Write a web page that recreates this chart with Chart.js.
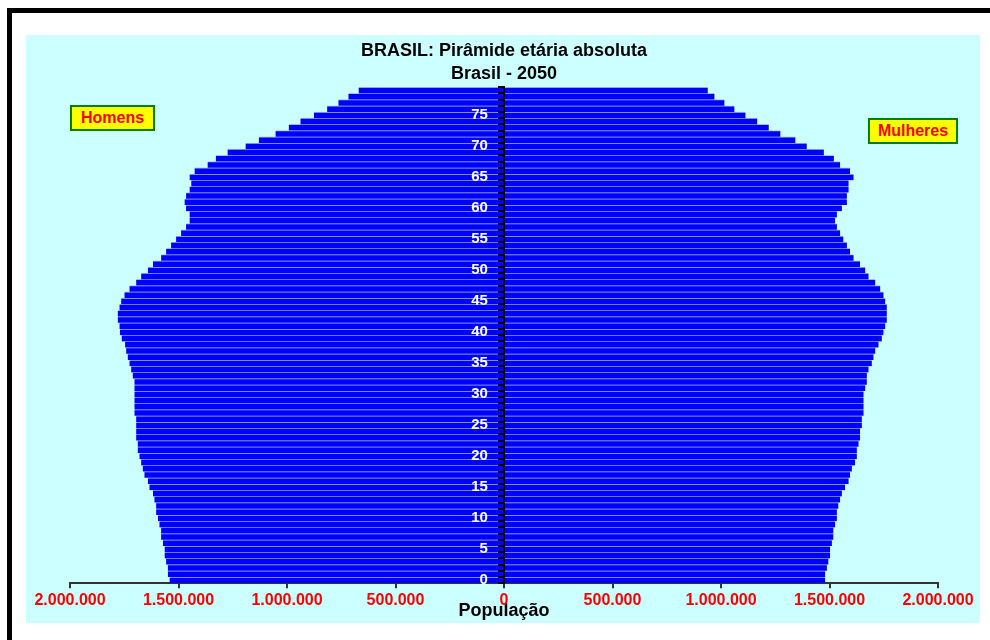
<!DOCTYPE html>
<html lang="pt-BR">
<head>
<meta charset="utf-8">
<title>BRASIL: Pirâmide etária absoluta</title>
<script src="https://cdn.jsdelivr.net/npm/chart.js@4.4.1/dist/chart.umd.min.js"></script>
<style>
    html, body {
        margin: 0;
        padding: 0;
        width: 990px;
        height: 640px;
        background: #ffffff;
        overflow: hidden;
        font-family: "Liberation Sans", Arial, sans-serif;
    }
    .frame {
        position: absolute;
        left: 7px;
        top: 8px;
        width: 1000px;
        height: 700px;
        border-left: 5px solid #000000;
        border-top: 5px solid #000000;
    }
    .plot-bg {
        position: absolute;
        left: 26px;
        top: 35px;
        width: 954px;
        height: 588px;
        background: #ccffff;
    }
    .plot-bg canvas {
        position: absolute;
        left: 0;
        top: 0;
    }
    .tag {
        position: absolute;
        box-sizing: border-box;
        height: 26px;
        background: #ffff00;
        border: 2px solid #008000;
        color: #ff0000;
        font: bold 16px "Liberation Sans", Arial, sans-serif;
        line-height: 22px;
        text-align: center;
    }
</style>
</head>
<body>
<div class="frame"></div>
<div class="plot-bg">
    <canvas id="pyramidChart" width="954" height="588"></canvas>
</div>
<div class="tag" style="left:70px; top:105px; width:85px;">Homens</div>
<div class="tag" style="left:868px; top:118px; width:90px;">Mulheres</div>

<script>
// Idades 0 a 79 (de baixo para cima)
const ages = [];
for (let i = 0; i < 80; i++) ages.push(String(i));

// Homens, idade 0 ... 79
const men = [
    1541000, 1549000, 1549000, 1557000, 1564000, 1564000, 1572000, 1580000, 1580000, 1588000,
    1595000, 1603000, 1603000, 1611000, 1618000, 1634000, 1641000, 1657000, 1665000, 1672000,
    1680000, 1688000, 1688000, 1695000, 1695000, 1695000, 1695000, 1703000, 1703000, 1703000,
    1703000, 1703000, 1703000, 1711000, 1718000, 1726000, 1734000, 1741000, 1746000, 1762000,
    1770000, 1772000, 1780000, 1780000, 1772000, 1764000, 1749000, 1726000, 1695000, 1672000,
    1641000, 1618000, 1580000, 1557000, 1534000, 1511000, 1488000, 1465000, 1449000, 1449000,
    1465000, 1472000, 1465000, 1449000, 1441000, 1449000, 1426000, 1366000, 1328000, 1274000,
    1191000, 1130000, 1053000, 992000, 938000, 876000, 815000, 763000, 717000, 670000
];

// Mulheres, idade 0 ... 79
const women = [
    1480000, 1480000, 1488000, 1495000, 1503000, 1503000, 1511000, 1518000, 1518000, 1526000,
    1534000, 1534000, 1541000, 1549000, 1557000, 1572000, 1588000, 1595000, 1603000, 1618000,
    1626000, 1626000, 1634000, 1641000, 1641000, 1649000, 1649000, 1657000, 1657000, 1657000,
    1657000, 1665000, 1672000, 1672000, 1680000, 1695000, 1703000, 1711000, 1726000, 1741000,
    1749000, 1757000, 1764000, 1764000, 1764000, 1757000, 1749000, 1734000, 1711000, 1680000,
    1665000, 1641000, 1611000, 1595000, 1580000, 1564000, 1549000, 1534000, 1526000, 1534000,
    1557000, 1580000, 1580000, 1588000, 1588000, 1611000, 1595000, 1549000, 1520000, 1474000,
    1395000, 1343000, 1274000, 1220000, 1167000, 1113000, 1062000, 1016000, 970000, 939000
];

const xTicks = [-2000000, -1500000, -1000000, -500000, 0, 500000, 1000000, 1500000, 2000000];

const formatPop = function (v) {
    return String(Math.abs(v)).replace(/\B(?=(\d{3})+(?!\d))/g, ".");
};

const barStyle = {
    backgroundColor: "#0000ff",
    borderColor: "#a8b8ff",
    borderWidth: { top: 1, bottom: 0, left: 0, right: 0 },
    borderSkipped: false,
    barPercentage: 1,
    categoryPercentage: 1,
};

const labelFont = { family: "'Liberation Sans', Arial, sans-serif", size: 18, weight: "bold", lineHeight: 1.2 };

const ctx = document.getElementById("pyramidChart").getContext("2d");

new Chart(ctx, {
    type: "bar",
    data: {
        labels: ages,
        datasets: [
            Object.assign({ label: "Homens", data: men.map(function (v) { return -v; }) }, barStyle),
            Object.assign({ label: "Mulheres", data: women }, barStyle),
        ],
    },
    options: {
        indexAxis: "y",
        responsive: false,
        animation: false,
        layout: {
            padding: { left: 44, right: 42, top: 0, bottom: 1 },
        },
        plugins: {
            legend: { display: false },
            tooltip: { enabled: false },
            title: {
                display: true,
                text: "BRASIL: Pirâmide etária absoluta",
                color: "#000000",
                font: labelFont,
                padding: { top: 5, bottom: 2 },
            },
            subtitle: {
                display: true,
                text: "Brasil - 2050",
                color: "#000000",
                font: labelFont,
                padding: { top: 0, bottom: 2 },
            },
        },
        scales: {
            x: {
                stacked: true,
                min: -2000000,
                max: 2000000,
                afterBuildTicks: function (axis) {
                    axis.ticks = xTicks.map(function (v) { return { value: v }; });
                },
                grid: {
                    drawOnChartArea: false,
                    drawTicks: true,
                    tickLength: 5,
                    color: "#333333",
                    lineWidth: 2,
                },
                border: { color: "#333333", width: 2 },
                ticks: {
                    color: "#ff0000",
                    padding: 3,
                    maxRotation: 0,
                    font: { family: "'Liberation Sans', Arial, sans-serif", size: 16, weight: "bold" },
                    callback: function (value) {
                        return formatPop(value);
                    },
                },
                title: {
                    display: true,
                    text: "População",
                    color: "#000000",
                    font: labelFont,
                    padding: { top: -13, bottom: 0 },
                },
            },
            // eixo central: linha preta e marcas de cada idade
            y: {
                stacked: true,
                reverse: true,
                position: { x: 0 },
                grid: {
                    drawOnChartArea: false,
                    drawTicks: true,
                    tickLength: 5,
                    color: "#000000",
                    lineWidth: 2,
                    z: 1,
                },
                border: { color: "#000000", width: 2, z: 1 },
                ticks: {
                    autoSkip: false,
                    callback: function () {
                        return "";
                    },
                },
            },
            // rótulos das idades, um pouco à esquerda do eixo
            yAges: {
                type: "category",
                axis: "y",
                labels: ages,
                reverse: true,
                offset: true,
                position: { x: -74000 },
                grid: { display: false },
                border: { display: false },
                ticks: {
                    autoSkip: false,
                    color: "#ffffff",
                    z: 1,
                    font: { family: "'Liberation Sans', Arial, sans-serif", size: 15, weight: "bold" },
                    callback: function (value, index) {
                        const age = Number(ages[index]);
                        return age % 5 === 0 ? String(age) : "";
                    },
                },
            },
        },
    },
});
</script>
</body>
</html>
